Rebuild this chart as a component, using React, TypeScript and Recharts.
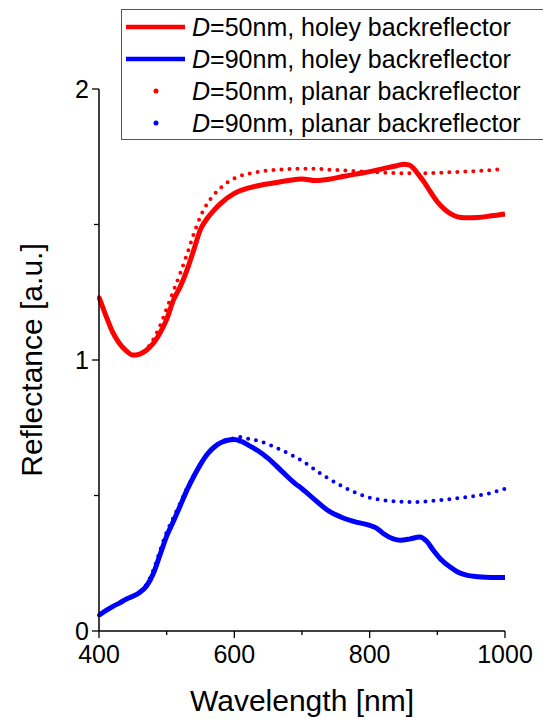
import { Line, LineChart, XAxis, YAxis } from "recharts";

// wavelength [nm] and reflectance
const holey50Wl = [400, 410, 420, 430, 440, 450, 460, 470, 480, 490, 500, 510, 520, 530, 540, 550, 560, 570, 580, 600, 620, 640, 660, 680, 700, 720, 740, 760, 780, 800, 820, 840, 850, 858, 865, 872, 880, 890, 900, 910, 920, 930, 940, 960, 980, 1000];
const holey50 = [1.232, 1.165, 1.104, 1.062, 1.035, 1.018, 1.022, 1.036, 1.061, 1.099, 1.15, 1.221, 1.27, 1.332, 1.406, 1.482, 1.523, 1.553, 1.578, 1.615, 1.634, 1.646, 1.654, 1.662, 1.668, 1.662, 1.667, 1.677, 1.686, 1.695, 1.706, 1.717, 1.722, 1.72, 1.707, 1.685, 1.658, 1.62, 1.584, 1.558, 1.539, 1.528, 1.525, 1.526, 1.532, 1.539];

const planar50Wl = [400, 410, 420, 430, 440, 450, 460, 470, 480, 490, 500, 510, 520, 530, 540, 550, 560, 570, 580, 600, 630, 670, 710, 750, 800, 850, 880, 930, 970, 1000];
const planar50 = [1.232, 1.165, 1.104, 1.062, 1.035, 1.018, 1.022, 1.04, 1.075, 1.125, 1.19, 1.255, 1.32, 1.39, 1.465, 1.53, 1.577, 1.61, 1.636, 1.67, 1.692, 1.703, 1.706, 1.701, 1.694, 1.689, 1.689, 1.694, 1.699, 1.705];

const holey90Wl = [400, 410, 420, 430, 440, 450, 460, 470, 480, 490, 500, 510, 520, 530, 540, 550, 560, 570, 580, 590, 600, 610, 620, 635, 650, 670, 690, 700, 720, 740, 760, 780, 800, 810, 820, 835, 845, 860, 874, 884, 894, 905, 919, 930, 943, 960, 980, 1000];
const holey90 = [0.058, 0.075, 0.09, 0.103, 0.117, 0.128, 0.142, 0.165, 0.21, 0.28, 0.35, 0.405, 0.462, 0.52, 0.57, 0.615, 0.652, 0.678, 0.695, 0.704, 0.707, 0.7, 0.687, 0.665, 0.637, 0.59, 0.544, 0.525, 0.482, 0.442, 0.418, 0.402, 0.39, 0.38, 0.36, 0.34, 0.335, 0.34, 0.347, 0.332, 0.298, 0.265, 0.236, 0.218, 0.206, 0.2, 0.197, 0.197];

const planar90Wl = [400, 410, 420, 430, 440, 450, 460, 470, 480, 490, 500, 510, 520, 530, 540, 550, 560, 570, 580, 590, 600, 606, 620, 640, 670, 700, 731, 761, 796, 830, 867, 904, 946, 975, 1000];
const planar90 = [0.058, 0.075, 0.09, 0.103, 0.117, 0.128, 0.144, 0.172, 0.222, 0.295, 0.365, 0.418, 0.472, 0.527, 0.575, 0.618, 0.655, 0.68, 0.697, 0.707, 0.712, 0.716, 0.71, 0.698, 0.667, 0.628, 0.575, 0.532, 0.495, 0.48, 0.476, 0.483, 0.495, 0.507, 0.525];

const xTicks = [400, 500, 600, 700, 800, 900, 1000];
const xLabels = [400, 600, 800, 1000];
const yTicks = [0, 0.5, 1, 1.5, 2];
const yLabels = [0, 1, 2];

const legendItems = [
  { d: "50", kind: "holey", color: "#FF0000", dotted: false },
  { d: "90", kind: "holey", color: "#0000FF", dotted: false },
  { d: "50", kind: "planar", color: "#FF0000", dotted: true },
  { d: "90", kind: "planar", color: "#0000FF", dotted: true },
];

const toPoints = (xs: number[], ys: number[]) => xs.map((x, i) => ({ x, y: ys[i] }));

const FONT = "'Liberation Sans', Arial, sans-serif";

function XTick(props: any) {
  const { x, y, payload } = props;
  const major = xLabels.includes(payload.value);
  return (
    <g>
      <line x1={x} y1={y} x2={x} y2={y + (major ? 7 : 4)} stroke="#000" strokeWidth={1.3} />
      {major && (
        <text x={x} y={y + 32} textAnchor="middle" fontSize={25} fontFamily={FONT} fill="#000">
          {payload.value}
        </text>
      )}
    </g>
  );
}

function YTick(props: any) {
  const { x, y, payload } = props;
  const major = yLabels.includes(payload.value);
  return (
    <g>
      <line x1={x} y1={y} x2={x - (major ? 7 : 5)} y2={y} stroke="#000" strokeWidth={1.3} />
      {major && (
        <text x={x - 10} y={y + 9} textAnchor="end" fontSize={25} fontFamily={FONT} fill="#000">
          {payload.value}
        </text>
      )}
    </g>
  );
}

function LegendBox() {
  return (
    <div
      style={{
        position: "absolute",
        top: 9,
        left: 121,
        width: 440,
        border: "1.5px solid #555",
        background: "#fff",
        paddingTop: 1,
        fontFamily: FONT,
        fontSize: 25,
        color: "#000",
        whiteSpace: "nowrap",
      }}
    >
      {legendItems.map((it, i) => (
        <div key={i} style={{ display: "flex", alignItems: "center", height: 32 }}>
          <svg width={66} height={10} style={{ marginLeft: 4, flex: "none" }}>
            {it.dotted ? (
              <circle cx={30} cy={5} r={2.5} fill={it.color} />
            ) : (
              <line x1={0} y1={5} x2={59} y2={5} stroke={it.color} strokeWidth={4.5} />
            )}
          </svg>
          <span>
            <i>D</i>={it.d}nm, {it.kind} backreflector
          </span>
        </div>
      ))}
    </div>
  );
}

export default function App() {
  return (
    <div style={{ position: "absolute", left: 0, top: 0, width: 543, height: 719, overflow: "hidden", background: "#fff" }}>
      <LineChart width={543} height={719} margin={{ top: 89, right: 38, bottom: 0, left: 0 }}>
        <XAxis
          type="number"
          dataKey="x"
          domain={[400, 1000]}
          ticks={xTicks}
          tick={<XTick />}
          tickLine={false}
          tickSize={0}
          tickMargin={0}
          height={88}
          axisLine={{ stroke: "#000", strokeWidth: 1.5 }}
          allowDuplicatedCategory={false}
          label={{ value: "Wavelength [nm]", position: "insideBottom", offset: 8, fontSize: 30, fontFamily: FONT, fill: "#000" }}
        />
        <YAxis
          type="number"
          domain={[0, 2]}
          ticks={yTicks}
          width={99}
          tick={<YTick />}
          tickLine={false}
          tickSize={0}
          tickMargin={0}
          axisLine={{ stroke: "#000", strokeWidth: 1.5 }}
          label={{ value: "Reflectance [a.u.]", angle: -90, position: "insideLeft", dx: 26, fontSize: 30, fontFamily: FONT, fill: "#000", style: { textAnchor: "middle" } }}
        />
        <Line
          data={toPoints(planar50Wl, planar50)}
          dataKey="y"
          type="monotone"
          stroke="#FF0000"
          strokeWidth={4}
          strokeDasharray="0 8"
          strokeLinecap="round"
          dot={false}
          activeDot={false}
          isAnimationActive={false}
        />
        <Line
          data={toPoints(planar90Wl, planar90)}
          dataKey="y"
          type="monotone"
          stroke="#0000FF"
          strokeWidth={4}
          strokeDasharray="0 8"
          strokeLinecap="round"
          dot={false}
          activeDot={false}
          isAnimationActive={false}
        />
        <Line
          data={toPoints(holey50Wl, holey50)}
          dataKey="y"
          type="monotone"
          stroke="#FF0000"
          strokeWidth={5}
          dot={false}
          activeDot={false}
          isAnimationActive={false}
        />
        <Line
          data={toPoints(holey90Wl, holey90)}
          dataKey="y"
          type="monotone"
          stroke="#0000FF"
          strokeWidth={5}
          dot={false}
          activeDot={false}
          isAnimationActive={false}
        />
      </LineChart>
      <LegendBox />
    </div>
  );
}
